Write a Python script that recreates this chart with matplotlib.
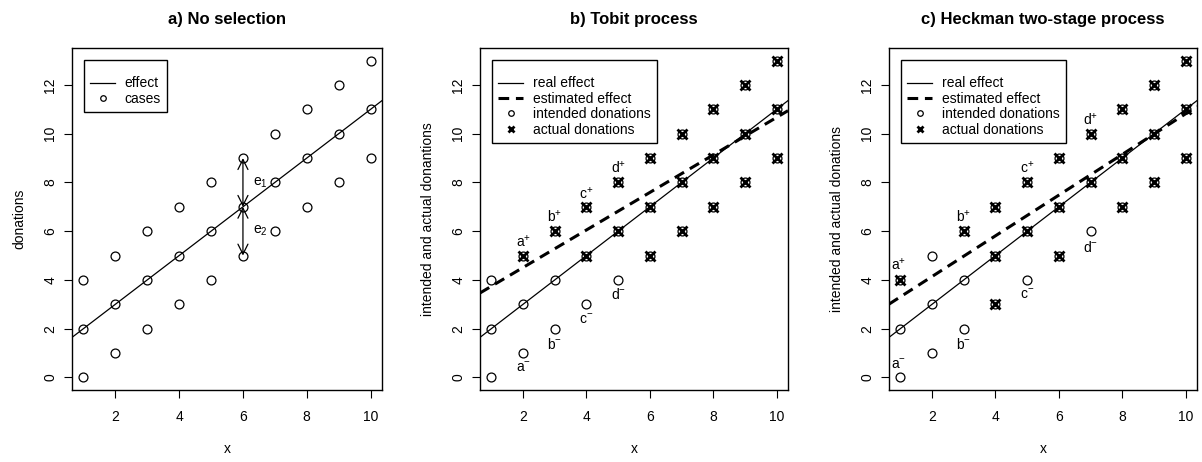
import matplotlib
matplotlib.use("Agg")
import matplotlib.pyplot as plt
from matplotlib.lines import Line2D

plt.rcParams['font.family'] = ['Liberation Sans', 'DejaVu Sans']
plt.rcParams['mathtext.fontset'] = 'custom'
plt.rcParams['mathtext.rm'] = 'Liberation Sans'
plt.rcParams['mathtext.it'] = 'Liberation Sans'

# intended donations (all cases)
case_x = [1, 1, 1, 2, 2, 2, 3, 3, 3, 4, 4, 4, 5, 5, 5, 6, 6, 6, 7, 7, 7, 8, 8, 8, 9, 9, 9, 10, 10, 10]
case_y = [0, 2, 4, 1, 3, 5, 2, 4, 6, 3, 5, 7, 4, 6, 8, 5, 7, 9, 6, 8, 10, 7, 9, 11, 8, 10, 12, 9, 11, 13]

# actual donations, Tobit process
tobit_x = [2, 3, 4, 4, 5, 5, 6, 6, 6, 7, 7, 7, 8, 8, 8, 9, 9, 9, 10, 10, 10]
tobit_y = [5, 6, 5, 7, 6, 8, 5, 7, 9, 6, 8, 10, 7, 9, 11, 8, 10, 12, 9, 11, 13]

# actual donations, Heckman process
heck_x = [1, 3, 4, 4, 4, 5, 5, 6, 6, 6, 7, 7, 8, 8, 8, 9, 9, 9, 10, 10, 10]
heck_y = [4, 6, 3, 5, 7, 6, 8, 5, 7, 9, 8, 10, 7, 9, 11, 8, 10, 12, 9, 11, 13]

# real effect and estimated effects (intercept, slope)
real_effect = (1.0, 1.0)
tobit_est = (2.97, 0.77)
heck_est = (2.47, 0.835)

# annotations
tobit_labels = ["a$^{+}$", "b$^{+}$", "c$^{+}$", "d$^{+}$", "a$^{-}$", "b$^{-}$", "c$^{-}$", "d$^{-}$"]
tobit_lab_x = [2.0, 3.0, 4.0, 5.0, 2.0, 3.0, 4.0, 5.0]
tobit_lab_y = [5.58, 6.6, 7.56, 8.6, 0.4, 1.35, 2.38, 3.4]

heck_labels = ["a$^{+}$", "b$^{+}$", "c$^{+}$", "d$^{+}$", "a$^{-}$", "b$^{-}$", "c$^{-}$", "d$^{-}$"]
heck_lab_x = [0.95, 3.0, 5.0, 7.0, 0.95, 3.0, 5.0, 7.0]
heck_lab_y = [4.62, 6.6, 8.6, 10.6, 0.52, 1.35, 3.4, 5.35]

FS = 10
W, H = 1202, 462
fig = plt.figure(figsize=(W / 100, H / 100), dpi=100)

boxes = [(72, 382), (480, 788), (889, 1197)]
top_px, bot_px = 48, 390
axes = []
for l, r in boxes:
    ax = fig.add_axes([l / W, 1 - bot_px / H, (r - l) / W, (bot_px - top_px) / H])
    ax.set_xlim(0.64, 10.36)
    ax.set_ylim(-0.52, 13.52)
    ax.set_xticks([2, 4, 6, 8, 10])
    ax.set_yticks([0, 2, 4, 6, 8, 10, 12])
    ax.tick_params(direction='out', length=5.5, width=0.8, labelsize=FS)
    ax.tick_params(axis='x', pad=9)
    ax.tick_params(axis='y', pad=5)
    for lab in ax.get_yticklabels():
        lab.set_rotation(90)
        lab.set_va('center')
    for s in ax.spines.values():
        s.set_linewidth(1.0)
    ax.set_xlabel("x", fontsize=FS, labelpad=13)
    axes.append(ax)

circ = dict(marker='o', linestyle='none', markersize=6.4, markerfacecolor='none',
            markeredgecolor='black', markeredgewidth=0.9)
cross = dict(marker='x', linestyle='none', markersize=6.5, color='black', markeredgewidth=2.0)
dash = dict(color='black', lw=2.2, dashes=(3.5, 2.2))

leg_kw = dict(loc='upper left', fontsize=FS, fancybox=False, edgecolor='black', framealpha=1,
              borderaxespad=0.85, handlelength=1.8, labelspacing=0.1, borderpad=0.45,
              handletextpad=0.7, title=" ", title_fontsize=6.5)

# a) No selection
ax = axes[0]
ax.set_title("a) No selection", fontsize=12, fontweight='bold', pad=17)
ax.axline((0, real_effect[0]), slope=real_effect[1], color='black', lw=0.9)
ax.plot(case_x, case_y, **circ)
ax.annotate("", xy=(6, 9), xytext=(6, 7),
            arrowprops=dict(arrowstyle='<->', lw=0.9, shrinkA=0, shrinkB=0, mutation_scale=18))
ax.annotate("", xy=(6, 5), xytext=(6, 7),
            arrowprops=dict(arrowstyle='<->', lw=0.9, shrinkA=0, shrinkB=0, mutation_scale=18))
ax.text(6.3, 8, "e$_1$", fontsize=FS, va='center')
ax.text(6.3, 6, "e$_2$", fontsize=FS, va='center')
ax.set_ylabel("donations", fontsize=FS, labelpad=12)
handles = [Line2D([], [], color='black', lw=0.9),
           Line2D([], [], marker='o', linestyle='none', markersize=4, markerfacecolor='none',
                  markeredgecolor='black', markeredgewidth=0.9)]
leg = ax.legend(handles, ["effect", "cases"], **leg_kw)
leg.get_frame().set_linewidth(1.0)


def selection_panel(ax, title, ylabel, ax_x, ax_y, est, labs, lx, ly):
    ax.set_title(title, fontsize=12, fontweight='bold', pad=17)
    ax.axline((0, real_effect[0]), slope=real_effect[1], color='black', lw=0.9)
    ax.axline((0, est[0]), slope=est[1], **dash)
    ax.plot(case_x, case_y, **circ)
    ax.plot(ax_x, ax_y, **cross)
    for t, px, py in zip(labs, lx, ly):
        ax.text(px, py, t, fontsize=FS, ha='center', va='center')
    ax.set_ylabel(ylabel, fontsize=FS, labelpad=12)
    hs = [Line2D([], [], color='black', lw=0.9),
          Line2D([], [], **dash),
          Line2D([], [], marker='o', linestyle='none', markersize=4, markerfacecolor='none',
                 markeredgecolor='black', markeredgewidth=0.9),
          Line2D([], [], marker='x', linestyle='none', markersize=5, color='black',
                 markeredgewidth=2.0)]
    lg = ax.legend(hs, ["real effect", "estimated effect", "intended donations", "actual donations"],
                   **leg_kw)
    lg.get_frame().set_linewidth(1.0)


selection_panel(axes[1], "b) Tobit process", "intended and actual donantions",
                tobit_x, tobit_y, tobit_est, tobit_labels, tobit_lab_x, tobit_lab_y)
selection_panel(axes[2], "c) Heckman two-stage process", "intended and actual donations",
                heck_x, heck_y, heck_est, heck_labels, heck_lab_x, heck_lab_y)

fig.savefig("out.png", dpi=100)
